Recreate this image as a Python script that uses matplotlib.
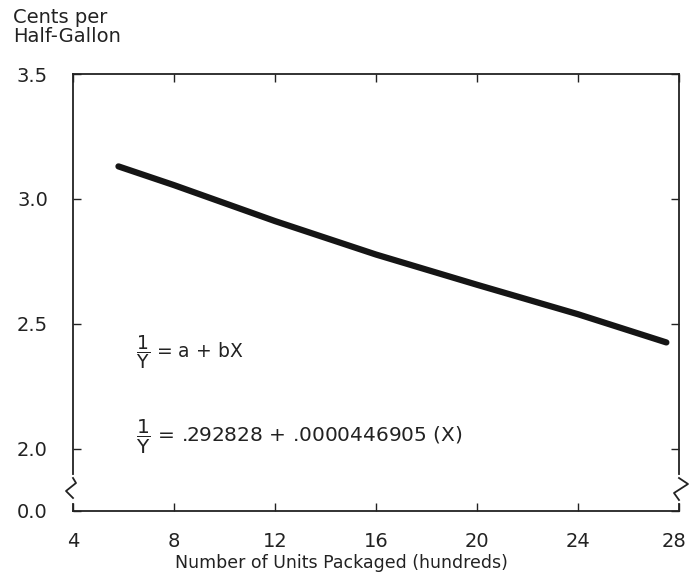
import numpy as np
import matplotlib
matplotlib.use('Agg')
import matplotlib.pyplot as plt
import matplotlib.transforms as mtransforms
from matplotlib.ticker import FixedLocator, FixedFormatter

# values (X in hundreds of units, Y in cents per half-gallon)
units = [5.8, 8, 12, 16, 20, 24, 27.5]
cents = [3.13, 3.055, 2.911, 2.777, 2.656, 2.538, 2.425]

x_ticks = [4, 8, 12, 16, 20, 24, 28]
y_ticks = [1.75, 2.0, 2.5, 3.0, 3.5]          # 1.75 stands for the broken-axis "0.0"
y_labels = ['0.0', '2.0', '2.5', '3.0', '3.5']

fig = plt.figure(figsize=(6.89, 5.74), dpi=100)
ax = fig.add_axes([73/689, 1-511/574, (679-73)/689, (511-74)/574])

ax.plot(units, cents, color='#151515', lw=4.5, solid_capstyle='round')

ax.set_xlim(4, 28)
ax.set_ylim(1.75, 3.5)
ax.xaxis.set_major_locator(FixedLocator(x_ticks))
ax.yaxis.set_major_locator(FixedLocator(y_ticks))
ax.yaxis.set_major_formatter(FixedFormatter(y_labels))
ax.tick_params(direction='in', length=6, width=1, top=True, right=True,
               labelsize=14, colors='#222222')
ax.tick_params(axis='x', pad=15)
ax.tick_params(axis='y', pad=18)
for s in ax.spines.values():
    s.set_linewidth(1.3)
    s.set_color('#222222')

# keep the last x label inside the figure
last = ax.get_xticklabels()[-1]
last.set_transform(last.get_transform() +
                   mtransforms.ScaledTranslation(-5/100, 0, fig.dpi_scale_trans))

# axis break zigzags on left and right spines
px_x = 24.0 / 606
px_y = 1.75 / 437
y0 = 1.75 + (511 - 478) * px_y
zig_l = [(0, 0), (3, 5), (-7, 13), (0, 20)]
zig_r = [(0, 0), (9, 6), (-5, 15), (0, 22)]
for xe, zig in ((4, zig_l), (28, zig_r)):
    ax.plot([xe, xe], [y0 + 1 * px_y, y0 - 23 * px_y], color='white', lw=3,
            clip_on=False, zorder=5)
    zx = [xe + dx * px_x for dx, dy in zig]
    zy = [y0 - dy * px_y for dx, dy in zig]
    ax.plot(zx, zy, color='#222222', lw=1.3, clip_on=False, zorder=6)

# equations
frac = r'$\dfrac{\mathsf{1}}{\mathsf{Y}}$'
ax.text(6.5, 2.385, frac + ' = a + bX', fontsize=13.5,
        va='center', color='#222222')
ax.text(6.5, 2.045, frac + ' = .292828 + .0000446905 (X)',
        fontsize=14.5, va='center', color='#222222')

fig.text(13/689, 1-8/574, 'Cents per\nHalf-Gallon', fontsize=14, va='top',
         ha='left', linespacing=1.0, color='#222222')
fig.text(341/689, 1-563/574, 'Number of Units Packaged (hundreds)', fontsize=12.5,
         ha='center', va='center', color='#222222')

fig.savefig('out.png', dpi=100)
